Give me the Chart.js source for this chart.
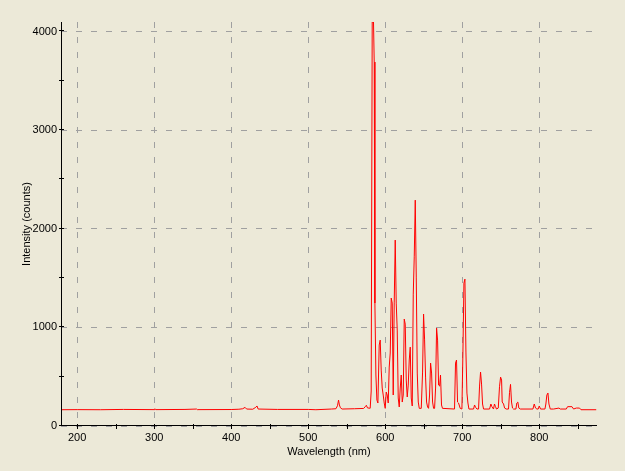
<!DOCTYPE html>
<html>
<head>
<meta charset="utf-8">
<script src="https://cdn.jsdelivr.net/npm/chart.js@4.4.0/dist/chart.umd.min.js"></script>
<style>
  html, body { margin: 0; padding: 0; background: #ECE9D8; }
  #wrap { width: 625px; height: 471px; }
</style>
</head>
<body>
<div id="wrap"><canvas id="spectrumChart"></canvas></div>
<script>
// spectrum (nm / counts)
const wavelengths = [
  179.2, 179.4, 200, 230, 260, 300, 301, 302, 340, 355, 356, 400, 410, 415, 418, 420, 428, 432, 433.5, 435,
  460, 500, 510, 530, 536, 538, 539.4, 540.5, 541.8, 544, 560, 572, 574.5, 575.5, 577, 580.5,
  581.8, 583.1, 584.8, 585.7, 586.6, 587.9, 589.2, 590.5, 592.2, 593.5, 594.8, 596.1, 597.4, 598.7,
  600.0, 601.3, 602.6, 603.9, 605.2, 606.5, 607.8, 609.1, 610.4, 611.7, 613.0, 614.3, 615.6, 616.9,
  618.2, 619.5, 620.8, 622.1, 623.4, 624.7, 626.0, 627.3, 628.6, 629.9, 631.2, 632.5, 633.8, 635.1,
  636.4, 637.7, 639.0, 640.3, 641.6, 642.9, 644.2, 646.8, 648.5, 649.8, 651.1, 652.4, 653.7, 655.0,
  656.3, 657.6, 658.9, 660.2, 661.5, 662.8, 664.1, 665.4, 666.7, 668.0, 669.3, 670.6, 671.8, 673.1,
  674.4, 690.0, 691.3, 692.6, 693.9, 695.2, 697.4, 699.6, 700.9, 702.2, 703.5, 704.8, 706.1, 707.4,
  708.7, 714.7, 716.0, 717.3, 719.1, 721.2, 722.5, 723.8, 725.1, 726.4, 727.7, 735.5, 737.2, 738.5,
  740.6, 741.9, 743.2, 744.5, 746.8, 748.4, 749.8, 751.1, 751.9, 753.7, 755.0, 757.1, 760.1, 761.4,
  762.7, 764.0, 765.3, 766.6, 769.7, 770.9, 772.2, 773.5, 775.3, 791.8, 793.5, 795.2, 797.0, 798.7,
  800.0, 801.7, 807.4, 808.6, 809.9, 811.3, 812.6, 814.3, 818.6, 825.6, 827.3, 835.1, 836.8, 842.5,
  844.6, 848.1, 852.3, 854.2, 874.0
];
const counts = [
  0, 165, 166, 165, 168, 166, 175, 166, 168, 172, 166, 167, 170, 175, 189, 172, 170, 190, 203, 172,
  168, 168, 165, 172, 175, 205, 263, 213, 185, 172, 175, 178, 200, 210, 183, 180,
  355, 4096, 4096, 3690, 1246, 517, 263, 233, 821, 871, 567, 385, 314, 233,
  179, 344, 314, 233, 598, 740, 1297, 1246, 314, 1256, 1885, 1246, 973, 284,
  193, 385, 517, 243, 314, 1084, 1033, 466, 294, 415, 669, 800, 284, 203,
  1337, 1722, 2290, 1510, 537, 243, 179, 179, 547, 1135, 881, 496, 243, 193,
  179, 314, 638, 537, 243, 179, 179, 385, 993, 871, 415, 405, 517, 213,
  179, 172, 638, 669, 243, 233, 179, 172, 750, 1449, 1489, 750, 334, 233,
  172, 172, 213, 190, 172, 172, 405, 547, 425, 223, 172, 172, 223, 196,
  172, 223, 196, 172, 182, 398, 496, 466, 243, 223, 182, 172, 172, 338,
  422, 243, 182, 172, 172, 233, 243, 182, 172, 172, 223, 182, 172, 172,
  203, 172, 172, 223, 314, 334, 223, 172, 172, 182, 172, 172, 196, 196,
  172, 182, 182, 165, 165
];
const xTickValues = [200, 300, 400, 500, 600, 700, 800];
const yTickValues = [0, 1000, 2000, 3000, 4000];
const xMinorValues = [200, 250, 300, 350, 400, 450, 500, 550, 600, 650, 700, 750, 800, 850];
const yMinorValues = [0, 500, 1000, 1500, 2000, 2500, 3000, 3500, 4000];

const axisFont = { family: 'Liberation Sans, Arial, sans-serif', size: 11 };

// axis lines with small ticks crossing them, like the original
const axisTicks = {
    id: 'axisTicks',
    afterDraw(chart) {
        const { ctx, chartArea: a, scales: { x, y } } = chart;
        ctx.save();
        ctx.strokeStyle = '#000';
        ctx.lineWidth = 1;
        ctx.beginPath();
        ctx.moveTo(a.left + 0.5, a.top);
        ctx.lineTo(a.left + 0.5, a.bottom - 0.5);
        ctx.lineTo(a.right, a.bottom - 0.5);
        xMinorValues.forEach(v => {
            const px = Math.round(x.getPixelForValue(v)) + 0.5;
            ctx.moveTo(px, a.bottom - 2);
            ctx.lineTo(px, a.bottom + 3);
        });
        yMinorValues.forEach(v => {
            const py = Math.round(y.getPixelForValue(v)) - 0.5;
            ctx.moveTo(a.left - 2, py);
            ctx.lineTo(a.left + 3, py);
        });
        ctx.stroke();
        ctx.restore();
    }
};

const ctx = document.getElementById('spectrumChart').getContext('2d');
const spectrumChart = new Chart(ctx, {
    type: 'line',
    data: {
        datasets: [{
            data: wavelengths.map((w, i) => ({ x: w, y: counts[i] })),
            borderColor: '#FF0000',
            borderWidth: 1,
            pointRadius: 0,
            tension: 0
        }]
    },
    options: {
        responsive: true,
        maintainAspectRatio: false,
        animation: false,
        layout: { padding: { top: 22, right: 28, left: 0, bottom: 0 } },
        plugins: {
            legend: { display: false },
            tooltip: { enabled: false }
        },
        scales: {
            x: {
                type: 'linear',
                min: 179,
                max: 875,
                afterFit: (s) => { s.height = 45; },
                afterBuildTicks: (s) => { s.ticks = xTickValues.map(v => ({ value: v })); },
                ticks: { color: '#000', font: axisFont, padding: 5, maxRotation: 0, autoSkip: false, callback: (v) => String(v) },
                grid: { color: '#A0A0A0', drawTicks: false },
                border: { display: false, dash: [6, 9] },
                title: { display: true, text: 'Wavelength (nm)', color: '#000', font: axisFont, padding: { top: 0, bottom: 12 } }
            },
            y: {
                min: 0,
                max: 4096,
                afterFit: (s) => { s.width = 61; },
                afterBuildTicks: (s) => { s.ticks = yTickValues.map(v => ({ value: v })); },
                ticks: { color: '#000', font: axisFont, padding: 4, autoSkip: false, callback: (v) => String(v) },
                grid: { color: '#A0A0A0', drawTicks: false },
                border: { display: false, dash: [6, 9] },
                title: { display: true, text: 'Intensity (counts)', color: '#000', font: axisFont, padding: { top: 20, bottom: 0 } }
            }
        }
    },
    plugins: [axisTicks]
});
</script>
</body>
</html>
